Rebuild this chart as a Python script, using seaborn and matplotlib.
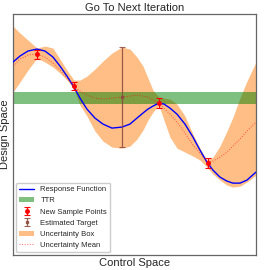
import matplotlib
matplotlib.use("Agg")
import matplotlib.pyplot as plt
import numpy as np
import pandas as pd
import seaborn as sns

# control-space grid (arbitrary units, no ticks shown)
control = [0, 7, 15, 24, 32, 40, 47, 54, 61, 67, 74, 82, 90, 99, 109, 117, 124, 130,
           135, 140, 146, 151, 157, 164, 172, 180, 187, 194, 200, 207, 214, 220, 227,
           234, 243]
response = [193, 199, 204, 206, 204, 198, 189, 179, 168, 157, 146, 137, 131, 127, 128,
            131, 137, 142, 146, 149, 152, 151, 147, 141, 131, 118, 105, 93, 85, 78, 74,
            72, 72, 75, 83]
upper = [229, 222, 215, 207, 209, 207, 196, 185, 175, 175, 179, 186, 194, 202, 208, 206,
         198, 189, 177, 165, 158, 157, 156, 151, 139, 121, 107, 95, 98, 109, 124, 138,
         157, 174, 193]
lower = [163, 173, 185, 197, 193, 188, 182, 175, 166, 150, 139, 124, 114, 108, 107, 109,
         116, 125, 135, 143, 150, 135, 118, 107, 103, 99, 95, 88, 81, 75, 70, 68, 69, 73,
         80]
mean = [189, 196, 200, 201, 198, 192, 185, 177, 169, 164, 160, 157, 156, 157, 158, 159,
        160, 159, 158, 155, 152, 147, 141, 133, 122, 110, 102, 93, 94, 98, 103, 109, 116,
        124, 133]

sample_x = [24, 61, 146, 195]
sample_y = [201, 169, 152, 92]
sample_err = [4.5, 4, 5, 5]

target_x = [109]
target_y = [158]
target_err = [50]

ttr_low, ttr_high = 151, 163

df = pd.DataFrame({"control": control, "response": response, "mean": mean})

sns.set_style("white")
plt.rcParams["font.family"] = ["Liberation Sans", "DejaVu Sans"]

fig = plt.figure(figsize=(2.7, 2.7), dpi=100)
ax = fig.add_axes([0.048, 0.055, 0.9, 0.893])

ax.fill_between(control, lower, upper, color="#ff7f0e", alpha=0.5, lw=0,
                label="Uncertainty Box", zorder=1)
ax.axhspan(ttr_low, ttr_high, color="green", alpha=0.5, lw=0, label="TTR", zorder=2)
sns.lineplot(data=df, x="control", y="response", color="blue", lw=1,
             label="Response Function", ax=ax, zorder=3)
sns.lineplot(data=df, x="control", y="mean", color="red", lw=0.7, alpha=0.6,
             linestyle=":", label="Uncertainty Mean", ax=ax, zorder=3)
ax.errorbar(sample_x, sample_y, yerr=sample_err, fmt="o", color="red", ms=2.5,
            elinewidth=0.9, capsize=2, capthick=0.8, label="New Sample Points", zorder=4)
ax.errorbar(target_x, target_y, yerr=target_err, fmt="s", color="#8b4a3c", ms=2,
            elinewidth=0.9, capsize=2, capthick=0.8, alpha=0.85,
            label="Estimated Target", zorder=4)

ax.set_xlim(0, 243)
ax.set_ylim(0, 241)
ax.set_xticks([])
ax.set_yticks([])
ax.set_title("Go To Next Iteration", fontsize=8, pad=2)
ax.set_xlabel("Control Space", fontsize=8, labelpad=2)
ax.set_ylabel("Design Space", fontsize=8, labelpad=2)
for s in ax.spines.values():
    s.set_color("#666666")
    s.set_linewidth(0.9)

handles, labels = ax.get_legend_handles_labels()
order = ["Response Function", "TTR", "New Sample Points", "Estimated Target",
         "Uncertainty Box", "Uncertainty Mean"]
hmap = dict(zip(labels, handles))
ax.legend([hmap[k] for k in order], order, loc="lower left", fontsize=5.5,
          frameon=True, edgecolor="#cccccc", fancybox=True, framealpha=1,
          borderaxespad=0.4)

fig.savefig("out.png", dpi=100)
